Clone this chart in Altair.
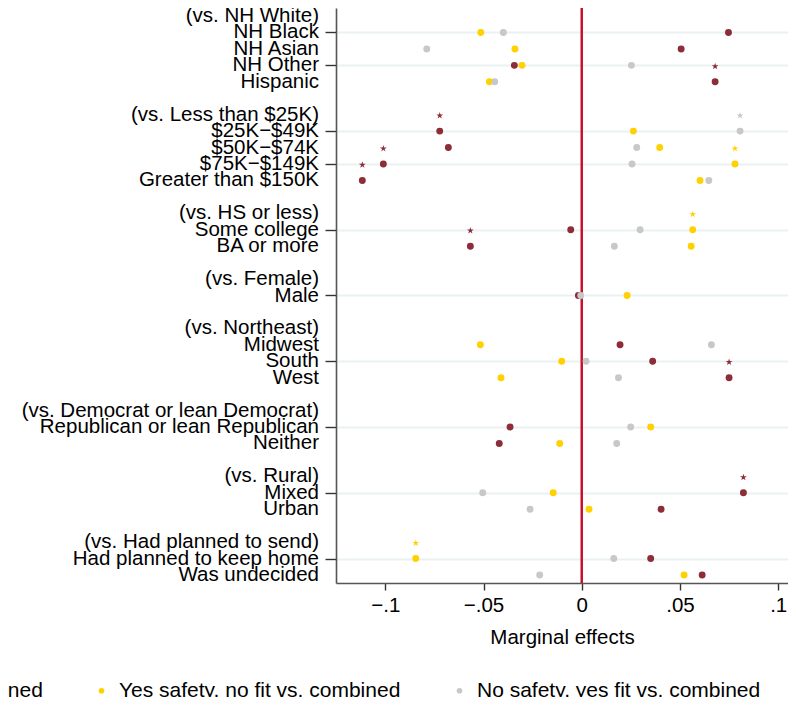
import altair as alt
import pandas as pd

FONT = "Liberation Sans"

headers = [
    "(vs. NH White)",
    "(vs. Less than $25K)",
    "(vs. HS or less)",
    "(vs. Female)",
    "(vs. Northeast)",
    "(vs. Democrat or lean Democrat)",
    "(vs. Rural)",
    "(vs. Had planned to send)",
]
group_items = [
    ["NH Black", "NH Asian", "NH Other", "Hispanic"],
    ["$25K\u2212$49K", "$50K\u2212$74K", "$75K\u2212$149K", "Greater than $150K"],
    ["Some college", "BA or more"],
    ["Male"],
    ["Midwest", "South", "West"],
    ["Republican or lean Republican", "Neither"],
    ["Mixed", "Urban"],
    ["Had planned to keep home", "Was undecided"],
]

series_names = [
    "No safety, no fit vs. combined",
    "Yes safety, no fit vs. combined",
    "No safety, yes fit vs. combined",
]
series_colors = ["#8C2D38", "#FFD100", "#C8C8C8"]

# values in item order
maroon_vals = [0.0747, 0.0506, -0.0343, 0.0679,
               -0.0723, -0.0679, -0.1010, -0.1117,
               -0.0056, -0.0567,
               -0.0017,
               0.0195, 0.0361, 0.0750,
               -0.0365, -0.0420,
               0.0823, 0.0404,
               0.0351, 0.0613]
yellow_vals = [-0.0514, -0.0340, -0.0304, -0.0470,
               0.0263, 0.0397, 0.0780, 0.0602,
               0.0565, 0.0557,
               0.0231,
               -0.0516, -0.0102, -0.0411,
               0.0351, -0.0112,
               -0.0145, 0.0037,
               -0.0845, 0.0521]
gray_vals = [-0.0399, -0.0789, 0.0253, -0.0443,
             0.0806, 0.0280, 0.0256, 0.0647,
             0.0297, 0.0166,
             -0.0005,
             0.0660, 0.0022, 0.0187,
             0.0249, 0.0178,
             -0.0504, -0.0263,
             0.0163, -0.0214]

# significance stars (1 = starred)
maroon_sig = [0, 0, 0, 1, 1, 0, 1, 1, 0, 1, 0, 0, 0, 1, 0, 0, 1, 0, 0, 0]
yellow_sig = [0, 0, 0, 0, 0, 0, 1, 0, 1, 0, 0, 0, 0, 0, 0, 0, 0, 0, 1, 0]
gray_sig = [0, 0, 0, 0, 1, 0, 0, 0, 0, 0, 0, 0, 0, 0, 0, 0, 0, 0, 0, 0]

x_ticks = [-0.1, -0.05, 0, 0.05, 0.1]
zero_line = [0]

# ---- build row layout ----
label_rows = []
label_texts = []
header_rows = []
item_rows = []
r = 0
for h, items in zip(headers, group_items):
    header_rows.append(r)
    label_rows.append(r)
    label_texts.append(h)
    r += 1
    for it in items:
        item_rows.append(r)
        label_rows.append(r)
        label_texts.append(it)
        r += 1
    r += 1  # blank spacer row
last_row = r - 2

pts = []
for name, vals, sigs in zip(series_names, [maroon_vals, yellow_vals, gray_vals],
                            [maroon_sig, yellow_sig, gray_sig]):
    for row, v, s in zip(item_rows, vals, sigs):
        pts.append({"series": name, "row": row, "value": v, "sig": s})
pts_df = pd.DataFrame(pts)
stars_df = pts_df[pts_df["sig"] == 1]
lbl_df = pd.DataFrame({"row": label_rows, "label": label_texts})
zero_df = pd.DataFrame({"value": zero_line})

xs = alt.Scale(domain=[-0.1251, 0.1050], nice=False, zero=False)
ys = alt.Scale(domain=[-0.49, last_row + 0.49], reverse=True, nice=False, zero=False)

y_axis = alt.Axis(
    values=item_rows, labels=False, title=None,
    tickSize=11, tickColor="#333333", tickWidth=1.4,
    grid=True, gridColor="#EAF1F4", gridWidth=2,
    domainColor="#555555", domainWidth=1.6,
)
x_axis = alt.Axis(
    values=x_ticks, format=".2~f",
    labelExpr="replace(replace(datum.label, '0.', '.'), '-', '\u2212')",
    title="Marginal effects", titleFontSize=20.5, titleFont=FONT,
    titleFontWeight="normal", titleColor="black", titlePadding=12,
    tickSize=7, tickColor="#333333", tickWidth=1.4,
    labelPadding=5, labelFontSize=20.5, labelFont=FONT, labelColor="black",
    labelFlush=False, labelOverlap=False, grid=False,
    domainColor="#555555", domainWidth=1.6,
)

color_scale = alt.Scale(domain=series_names, range=series_colors)

rule = alt.Chart(zero_df).mark_rule(color="#C8102E", strokeWidth=2.5).encode(
    x=alt.X("value:Q", scale=xs)
)

points = alt.Chart(pts_df).mark_circle(size=48, opacity=1).encode(
    x=alt.X("value:Q", scale=xs, axis=x_axis),
    y=alt.Y("row:Q", scale=ys, axis=y_axis),
    color=alt.Color(
        "series:N", scale=color_scale,
        legend=alt.Legend(
            orient="none", legendX=-595, legendY=672, direction="horizontal",
            title=None, labelFontSize=21, labelFont=FONT, labelColor="black",
            labelLimit=0, symbolSize=32, symbolType="circle", labelOffset=7,
            columnPadding=48, padding=0, symbolStrokeWidth=0,
        ),
    ),
)

star_path = ("M0,-1L0.22,-0.31L0.95,-0.31L0.36,0.12L0.59,0.81L0,0.38"
             "L-0.59,0.81L-0.36,0.12L-0.95,-0.31L-0.22,-0.31Z")
stars = alt.Chart(stars_df).mark_point(
    shape=star_path, size=52, filled=True, opacity=1, strokeWidth=0, yOffset=-15.5
).encode(
    x=alt.X("value:Q", scale=xs),
    y=alt.Y("row:Q", scale=ys),
    fill=alt.Fill("series:N", scale=alt.Scale(domain=series_names, range=series_colors),
                  legend=None),
)

labels = alt.Chart(lbl_df).mark_text(
    align="right", baseline="middle", fontSize=20.5, font=FONT, color="black"
).encode(
    x=alt.value(-17),
    y=alt.Y("row:Q", scale=ys),
    text="label:N",
)

chart = alt.layer(rule, points, stars, labels).properties(
    width=452, height=575,
    autosize=alt.AutoSizeParams(type="none"),
    padding={"left": 328, "top": 0, "right": 0, "bottom": 114},
    background="white",
).configure_view(stroke=None).configure_legend(labelLimit=0)

chart.save("out.html", embed_options={"renderer": "svg", "actions": False})
